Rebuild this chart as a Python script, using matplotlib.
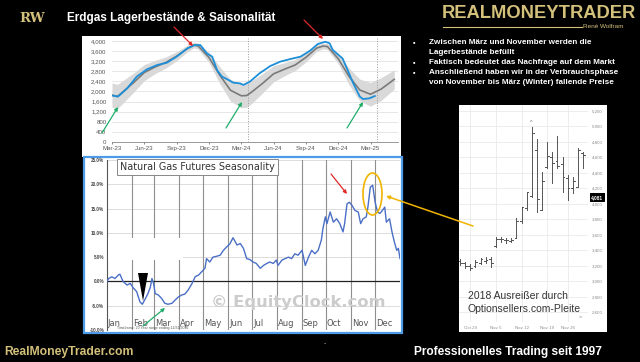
import matplotlib
matplotlib.use("Agg")
import matplotlib.pyplot as plt
from matplotlib.patches import Rectangle, Ellipse, Polygon
from matplotlib.ticker import FuncFormatter

plt.rcParams['font.family'] = ['Liberation Sans', 'DejaVu Sans']

# ---------------- data ----------------
# Top chart: natural gas storage (Bcf), months since Mar-2023
storage_months = [0, 0.56, 1.4, 2.3, 3.25, 4.2, 5.1, 6.0, 7.0, 7.7, 8.2, 8.8, 9.3, 9.75, 10.2, 10.8,
                  11.25, 11.9, 12.2, 12.8, 13.7, 14.7, 15.6, 16.5, 17.5, 18.4, 19.1, 19.8, 20.2, 20.5,
                  21.4, 21.8, 22.4, 23.0, 23.3, 23.9, 24.4]
storage_bcf = [1840, 1800, 2120, 2590, 2880, 3050, 3140, 3380, 3710, 3840, 3840, 3510, 3380, 2850, 2590, 2460,
               2350, 2320, 2260, 2390, 2720, 3010, 3180, 3280, 3380, 3620, 3880, 3970, 3910, 3640,
               3310, 2920, 2320, 1800, 1700, 1730, 1820]
avg_months = [0, 0.5, 1, 2, 3, 4, 5, 6, 7, 7.6, 8, 9, 10, 11, 12, 12.5, 13, 14, 15, 16, 17, 18, 19, 19.6,
              20, 21, 22, 23, 24, 25, 26.2]
avg_bcf = [1860, 1800, 1980, 2350, 2750, 2970, 3150, 3400, 3700, 3840, 3800, 3350, 2650, 2050, 1830, 1840,
           1990, 2330, 2700, 2880, 3050, 3350, 3720, 3800, 3780, 3300, 2600, 2060, 1890, 2100, 2480]
band_lo = [1380, 1320, 1530, 1970, 2430, 2710, 2930, 3220, 3570, 3730, 3680, 3150, 2320, 1620, 1360, 1370,
           1540, 1950, 2380, 2620, 2830, 3170, 3590, 3690, 3660, 3100, 2270, 1630, 1420, 1650, 2100]
band_hi = [2340, 2280, 2430, 2730, 3070, 3230, 3370, 3580, 3830, 3950, 3920, 3550, 2980, 2480, 2300, 2310,
           2440, 2710, 3020, 3140, 3270, 3530, 3850, 3910, 3900, 3500, 2930, 2490, 2360, 2550, 2860]
top_xtick_labels = ['Mar-23', 'Jun-23', 'Sep-23', 'Dec-23', 'Mar-24', 'Jun-24', 'Sep-24', 'Dec-24', 'Mar-25']
top_xtick_pos = [0, 3, 6, 9, 12, 15, 18, 21, 24]
top_yticks = [0, 400, 800, 1200, 1600, 2000, 2400, 2800, 3200, 3600, 4000]
top_vlines = [12.6, 24.6]

# Bottom chart: seasonality (% change), day of year
season_day = [0, 2, 6, 10, 14, 16, 20, 25, 29, 33,
              37, 41, 44, 47, 51, 54, 56, 58, 60, 64,
              68, 72, 76, 81, 85, 89, 93, 97, 101, 106,
              110, 114, 118, 122, 124, 128, 132, 137, 141, 145,
              149, 153, 157, 162, 166, 170, 174, 178, 182, 186,
              191, 195, 199, 203, 207, 211, 213, 218, 222, 226,
              230, 234, 238, 243, 247, 251, 255, 259, 263, 267,
              269, 272, 274, 278, 282, 286, 290, 294, 296, 299,
              302, 305, 309, 313, 316, 319, 323, 325, 328, 331,
              334, 337, 340, 343, 346, 348, 352, 355, 358, 361,
              363, 365]
season_pct = [0.0, 0.6, 0.95, 0.6, 1.3, 1.5, 0.0, -0.75, -0.4, -1.4,
              -2.1, -4.2, -4.7, -3.8, -2.5, -1.2, 0.6, -0.4, -2.5, -2.8,
              -3.5, -4.5, -4.7, -4.5, -3.8, -3.2, -2.8, -2.6, -1.8, -0.4,
              1.0, 1.3, 2.0, 2.7, 4.7, 4.0, 5.0, 5.2, 5.4, 6.4,
              7.1, 7.7, 9.0, 7.5, 7.8, 6.8, 4.7, 4.5, 4.0, 3.7,
              2.7, 3.3, 3.7, 4.0, 3.7, 4.4, 3.3, 4.4, 4.7, 5.0,
              4.7, 5.7, 5.4, 6.4, 3.3, 5.0, 6.4, 5.7, 6.4, 8.5,
              10.9, 13.3, 11.9, 14.3, 12.2, 12.9, 11.9, 10.2, 11.9, 16.0,
              16.3, 15.7, 14.6, 14.3, 11.9, 12.9, 13.3, 15.3, 19.4, 19.8,
              16.3, 14.3, 14.0, 14.6, 15.3, 12.2, 12.9, 10.2, 8.1, 6.4,
              6.8, 4.7]
month_names = ['Jan', 'Feb', 'Mar', 'Apr', 'May', 'Jun', 'Jul', 'Aug', 'Sep', 'Oct', 'Nov', 'Dec']
month_start = [0, 31, 59, 90, 120, 151, 181, 212, 243, 273, 304, 334]
season_yticks = [-10, -5, 0, 5, 10, 15, 20, 25]

# Right chart: daily OHLC, Oct 25 - Nov 29 2018
ohlc_high = [3282, 3251, 3221, 3273, 3303, 3316, 3308, 3574, 3574, 3562, 3562, 3812, 3963, 4156, 4997,
             4834, 4415, 4804, 4674, 4877, 4610, 4372, 4350, 4717, 4674]
ohlc_low = [3208, 3165, 3143, 3186, 3217, 3230, 3179, 3445, 3509, 3489, 3500, 3553, 3748, 3919, 4091,
            3897, 3919, 4459, 4265, 4459, 4156, 4049, 4137, 4213, 4459]
ohlc_open = [3260, 3230, 3190, 3200, 3240, 3260, 3280, 3460, 3550, 3530, 3520, 3560, 3780, 3950, 4100,
             4700, 3920, 4470, 4610, 4560, 4520, 4330, 4200, 4220, 4660]
ohlc_close = [3240, 3200, 3175, 3250, 3280, 3270, 3230, 3550, 3540, 3530, 3530, 3780, 3960, 4150, 4910,
              4060, 4300, 4620, 4530, 4490, 4350, 4200, 4300, 4690, 4630]
ohlc_date_pos = [2, 7, 12, 17, 21]
ohlc_date_labels = ['Oct 29', 'Nov 5', 'Nov 12', 'Nov 19', 'Nov 26']
price_ticks = [2600, 2800, 3000, 3200, 3400, 3600, 3800, 4000, 4200, 4400, 4600, 4800, 5000, 5200]
last_price = 4081

bullets = ["Zwischen März und November werden die", "Lagerbestände befüllt",
           "Faktisch bedeutet das Nachfrage auf dem Markt",
           "Anschließend haben wir in der Verbrauchsphase",
           "von November bis März (Winter) fallende Preise"]
bullet_marks = [True, False, True, True, False]

# ---------------- figure ----------------
W, H = 640, 362
fig = plt.figure(figsize=(6.4, 3.62), dpi=100, facecolor='black')


def px_axes(x0, y0, x1, y1, z=1):
    return fig.add_axes([x0 / W, 1 - y1 / H, (x1 - x0) / W, (y1 - y0) / H], zorder=z)


bg = px_axes(0, 0, W, H, z=0)
bg.set_xlim(0, W); bg.set_ylim(H, 0); bg.axis('off')
bg.add_patch(Rectangle((82, 36), 319, 121, facecolor='white', edgecolor='none'))
bg.add_patch(Rectangle((84, 157), 318, 176, facecolor='white', edgecolor='#4d9be6', lw=1.6))
bg.add_patch(Rectangle((459, 105), 148, 227, facecolor='white', edgecolor='none'))

GOLD = '#d3c07a'

# ---- top chart ----
ax1 = px_axes(112, 37, 398, 142, z=2)
ax1.set_facecolor('none')
ax1.set_xlim(0, 26.55)
ax1.set_ylim(0, 4158)
for v in top_yticks[1:]:
    ax1.axhline(v, color='#e3e3e3', lw=0.6, zorder=0)
ax1.fill_between(avg_months, band_lo, band_hi, color='#d9d9d9', lw=0, zorder=1)
for v in top_vlines:
    ax1.axvline(v, color='#9a9a9a', lw=0.7, ls=':', zorder=1)
ax1.plot(avg_months, avg_bcf, color='#7a7a7a', lw=1.2, zorder=2)
ax1.plot(storage_months, storage_bcf, color='#1d8fd8', lw=1.3, zorder=3)
ax1.set_xticks(top_xtick_pos)
ax1.set_xticklabels(top_xtick_labels)
ax1.set_yticks(top_yticks)
ax1.yaxis.set_major_formatter(FuncFormatter(lambda v, p: f"{int(v):,}"))
ax1.tick_params(axis='both', labelsize=4.4, colors='#555555', length=1.5, width=0.5, pad=1.5)
ax1.tick_params(axis='y', length=0, pad=4)
for s in ['top', 'right', 'left']:
    ax1.spines[s].set_visible(False)
ax1.spines['bottom'].set_color('#888888')
ax1.spines['bottom'].set_linewidth(0.6)

# ---- bottom-left chart ----
ax2 = px_axes(107, 160, 400, 330, z=2)
ax2.set_facecolor('none')
ax2.set_xlim(0, 365)
ax2.set_ylim(-10, 25)
for v in season_yticks:
    if v != 0:
        ax2.axhline(v, color='#cfcfcf', lw=0.5, zorder=0)
for m in month_start[1:]:
    ax2.axvline(m, color='#8f8f8f', lw=0.8, zorder=0)
ax2.axhline(0, color='#222222', lw=0.9, zorder=1)
ax2.plot(season_day, season_pct, color='#4a6fc6', lw=1.0, zorder=3)
ax2.set_yticks(season_yticks)
ax2.yaxis.set_major_formatter(FuncFormatter(lambda v, p: f"{v:.1f}%"))
ax2.tick_params(axis='y', labelsize=3.3, colors='#444444', length=0, pad=2)
ax2.set_xticks([])
for lab in ax2.get_yticklabels():
    lab.set_fontweight('bold')
for s in ['top', 'right', 'bottom']:
    ax2.spines[s].set_visible(False)
ax2.spines['left'].set_color('#555555')
ax2.spines['left'].set_linewidth(0.8)
for name, m in zip(month_names, month_start):
    ax2.text(m + 1, -8.6, name, fontsize=6, color='#555555', va='center', ha='left',
             family=['DejaVu Sans'], zorder=4)

# ---- right chart (OHLC) ----
ax3 = px_axes(459, 105, 588, 322, z=2)
ax3.set_facecolor('none')
ax3.set_xlim(-0.2, 24.97)
ax3.set_ylim(2471, 5278)
for v in price_ticks:
    ax3.axhline(v, color='#e6e6e6', lw=0.5, zorder=0)
for p in ohlc_date_pos:
    ax3.axvline(p, color='#e6e6e6', lw=0.5, zorder=0)
for i in range(len(ohlc_high)):
    ax3.plot([i, i], [ohlc_low[i], ohlc_high[i]], color='#555555', lw=0.7, zorder=2)
    ax3.plot([i - 0.35, i], [ohlc_open[i], ohlc_open[i]], color='#555555', lw=0.7, zorder=2)
    ax3.plot([i, i + 0.35], [ohlc_close[i], ohlc_close[i]], color='#555555', lw=0.7, zorder=2)
ax3.text(14, ohlc_high[14] + 20, '^', fontsize=4, color='#666666', ha='center', va='bottom')
ax3.yaxis.tick_right()
ax3.set_yticks(price_ticks)
ax3.yaxis.set_major_formatter(FuncFormatter(lambda v, p: f"{int(v):,}"))
ax3.set_xticks(ohlc_date_pos)
ax3.set_xticklabels(ohlc_date_labels)
ax3.tick_params(axis='both', labelsize=3.2, colors='#8a8a8a', length=0, pad=3)
for s in ax3.spines.values():
    s.set_visible(False)
ax3.text(25.6, last_price, f"{last_price:,}", fontsize=3.4, color='white', fontweight='bold',
         va='center', ha='left', bbox=dict(boxstyle='square,pad=0.35', fc='black', ec='none'),
         zorder=5, clip_on=False)

# ---------------- foreground overlay ----------------
fg = px_axes(0, 0, W, H, z=5)
fg.set_xlim(0, W); fg.set_ylim(H, 0); fg.axis('off')
fg.patch.set_alpha(0)

# white patch hiding grid in bottom chart
fg.add_patch(Rectangle((108, 238), 75, 22, facecolor='white', edgecolor='none', zorder=1))

# header
fg.text(19, 18, 'RW', fontsize=9.5, color=GOLD, fontweight='bold', family=['DejaVu Serif'],
        ha='left', va='center')
fg.text(67, 18, 'Erdgas Lagerbestände & Saisonalität', fontsize=8.5, color='white',
        fontweight='bold', ha='left', va='center')
fg.text(442, 14, 'REALMONEYTRADER', fontsize=13.2, color=GOLD, fontweight='bold',
        ha='left', va='center')
fg.plot([443, 582], [27, 27], color=GOLD, lw=0.8)
fg.text(583, 27, 'René Wolfram', fontsize=4.6, color=GOLD, ha='left', va='center')

by = [43, 53, 63, 73, 82]
for y, t, mk in zip(by, bullets, bullet_marks):
    if mk:
        fg.text(413, y, '▪', fontsize=5, color='white', ha='left', va='center')
    fg.text(429, y, t, fontsize=5.9, color='white', fontweight='bold', ha='left', va='center')

# bottom chart decorations
fg.text(120, 167, 'Natural Gas Futures Seasonality', fontsize=6.9, color='#333333',
        family=['DejaVu Sans'], ha='left', va='center',
        bbox=dict(boxstyle='square,pad=0.3', fc='white', ec='#888888', lw=0.7), zorder=4)
fg.text(298, 302, '© EquityClock.com', fontsize=11.8, color='#cccccc', fontweight='bold',
        family=['DejaVu Sans'], ha='center', va='center', zorder=2)
fg.text(117, 328.5, 'Timeframe: 20 Year range ending 12/31/2022', fontsize=2.5, color='#555555',
        ha='left', va='center', zorder=4)
fg.add_patch(Polygon([(138, 273), (148, 273), (143, 301)], closed=True, fc='black', ec='none', zorder=4))
fg.add_patch(Ellipse((372.5, 194), 19, 42, fill=False, ec='#f0b400', lw=1.2, zorder=4))

# right panel text
fg.text(468, 296, '2018 Ausreißer durch', fontsize=7.5, color='#333333', ha='left', va='center')
fg.text(468, 309, 'Optionsellers.com-Pleite', fontsize=7.5, color='#333333', ha='left', va='center')
fg.text(580, 316, '»', fontsize=4, color='#999999', ha='center', va='center')

# footer
fg.text(4, 352, 'RealMoneyTrader.com', fontsize=8.7, color=GOLD, fontweight='bold', ha='left', va='center')
fg.text(414, 352, 'Professionelles Trading seit 1997', fontsize=8.6, color='white', fontweight='bold',
        ha='left', va='center')
fg.text(325, 344, '-', fontsize=5, color='#aaaaaa', ha='center', va='center')


def arrow(x0, y0, x1, y1, c, lw=0.9):
    fg.annotate('', xy=(x1, y1), xytext=(x0, y0),
                arrowprops=dict(arrowstyle='-|>', color=c, lw=lw, mutation_scale=5,
                                shrinkA=0, shrinkB=0), zorder=6)


RED = '#e02828'
GREEN = '#1fae6a'
arrow(174, 27, 193, 46, RED)
arrow(304, 20, 323, 39, RED)
arrow(102, 133, 118, 107, GREEN)
arrow(226, 128, 242, 102, GREEN)
arrow(347, 128, 363, 102, GREEN)
arrow(331, 174, 347, 194, RED)
arrow(143, 326, 165, 308, GREEN)
arrow(473, 226, 386, 196, '#f0b400', lw=1.1)

fig.savefig('out.png', dpi=100, facecolor='black')
